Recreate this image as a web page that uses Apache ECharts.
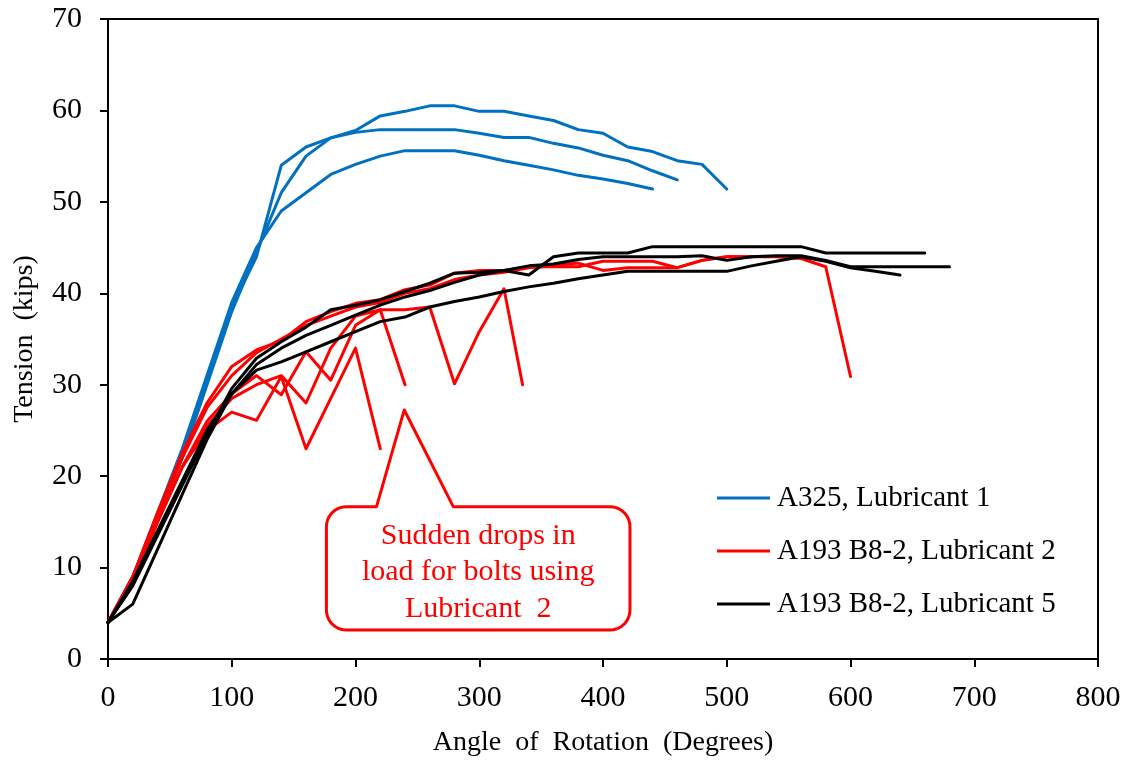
<!DOCTYPE html>
<html>
<head>
<meta charset="utf-8">
<script src="https://cdn.jsdelivr.net/npm/echarts@6/dist/echarts.min.js"></script>
<style>
  html, body { margin: 0; padding: 0; background: #fff; }
  #chart { width: 1130px; height: 761px; }
</style>
</head>
<body>
<div id="chart"></div>
<script>
// Bolt tension versus nut rotation, three bolt/lubricant groups.
const SERIF = 'Liberation Serif';

const legendNames = ['A325, Lubricant 1', 'A193 B8-2, Lubricant 2', 'A193 B8-2, Lubricant 5'];
const groupColors = ['#0070C0', '#FF0000', '#000000'];

const xTicks = [0, 100, 200, 300, 400, 500, 600, 700, 800];
const yTicks = [0, 10, 20, 30, 40, 50, 60, 70];

// A325, Lubricant 1 (blue)
const blueAnglesA = [0,20,40,60,80,100,120,140,160,180,200,220,240,260,280,300,320,340,360,380,400,420,440,460,480,500];
const blueA = [4,9,15.5,22.5,30.5,38.5,44,54,56,57,57.8,59.4,59.9,60.5,60.5,59.9,59.9,59.4,58.9,57.9,57.5,56,55.5,54.5,54.1,51.4];
const blueAnglesB = [0,20,40,60,80,100,120,140,160,180,200,220,240,260,280,300,320,340,360,380,400,420,440,460];
const blueB = [4,9,15.5,22,30,38,44.5,51,55,57,57.6,57.9,57.9,57.9,57.9,57.5,57.05,57.05,56.4,55.9,55.1,54.5,53.4,52.4];
const blueAnglesC = [0,20,40,60,80,100,120,140,160,180,200,220,240,260,280,300,320,340,360,380,400,420,440];
const blueC = [4,9,16,23,31,39,45,49,51,53,54.1,55,55.6,55.6,55.6,55.1,54.5,54,53.5,52.9,52.5,52,51.4];

// A193 B8-2, Lubricant 2 (red)
const redAngles1 = [0,20,40,60,80,100,120,140,160,180,200,220,240,260,280,300,320,340,360,380,400,420,440,460,480,500,520,540,560,580,600];
const red1 = [4,9,16,22.5,28,32,33.8,34.8,36.9,38,38.9,39.3,40.4,40.9,42.2,42.5,42.5,42.9,42.9,42.9,43.5,43.5,43.5,42.8,43.6,44,44,44,43.8,42.9,30.9];
const redAngles2 = [0,20,40,60,80,100,120,140,160,180,200,220];
const red2 = [4,8.5,15,21,25,27,26.1,30.9,23,28.5,34,23];
const redAngles3 = [0,20,40,60,80,100,120,140,160,180,200,220,240];
const red3 = [4,8.5,15,21,26,29,31,28.9,33.6,30.5,36.5,38.2,30];
const redAngles4 = [0,20,40,60,80,100,120,140,160,180,200,220,240,260,280,300,320,335];
const red4 = [4,8.5,15,21,25.5,28.5,30,31,28,34,37.5,38.2,38.2,38.5,30.1,35.8,40.5,30];
const redAngles5 = [0,20,40,60,80,100,120,140,160,180,200,220,240,260,280,300,320,340,360,380,400,420,440,460,480,500,520];
const red5 = [4,9,15.5,22,27.5,31,33.5,35,36.5,37.5,38.5,39,40,40.5,41.5,42,42.3,42.8,43,43.3,42.5,42.8,42.8,42.8,43.6,44,44];

// A193 B8-2, Lubricant 5 (black)
const blackAngles1 = [0,20,40,60,80,100,120,140,160,180,200,220,240,260,280,300,320,340,360,380,400,420,440,460,480,500,520,540,560,580,600,620,640,660];
const black1 = [4,8,13.5,19,24.5,29.6,32.9,34.7,36.3,38.2,38.7,39.3,40.2,41.1,42.2,42.3,42.5,42,44,44.4,44.4,44.4,45.1,45.1,45.1,45.1,45.1,45.1,45.1,44.4,44.4,44.4,44.4,44.4];
const blackAngles2 = [0,20,40,60,80,100,120,140,160,180,200,220,240,260,280,300,320,340,360,380,400,420,440,460,480,500,520,540,560,580,600,620,640,660,680];
const black2 = [4,8.5,14,19.5,25,29,32.2,34,35.4,36.5,37.6,38.7,39.6,40.3,41.2,42,42.5,43,43.2,43.7,44,44,44,44,44.1,43.6,44,44.1,44.1,43.6,42.9,42.9,42.9,42.9,42.9];
const blackAngles3 = [0,20,40,60,80,100,120,140,160,180,200,220,240,260,280,300,320,340,360,380,400,420,440,460,480,500,520,540,560,580,600,620,640];
const black3 = [4,6,12,18,24,29,31.6,32.5,33.6,34.7,35.8,36.9,37.4,38.5,39.1,39.6,40.2,40.7,41.1,41.6,42,42.4,42.4,42.4,42.4,42.4,43,43.5,44,43.5,42.8,42.4,42];

// Callout text and its anchor points (data units)
const calloutLines = ['Sudden drops in', 'load for bolts using', 'Lubricant  2'];
const calloutBox = { x0: 176.5, x1: 421.8, yTop: 16.66, yBottom: 3.17 };
const calloutPointer = { baseLeft: 217, baseRight: 279, tipX: 239.4, tipY: 27.24 };

function pairs(xs, ys) { return xs.map((x, i) => [x, ys[i]]); }

const curves = [
  [0, blueAnglesA, blueA], [0, blueAnglesB, blueB], [0, blueAnglesC, blueC],
  [1, redAngles1, red1], [1, redAngles2, red2], [1, redAngles3, red3], [1, redAngles4, red4], [1, redAngles5, red5],
  [2, blackAngles1, black1], [2, blackAngles2, black2], [2, blackAngles3, black3]
];

const series = curves.map(([g, xs, ys]) => ({
  name: legendNames[g],
  type: 'line',
  data: pairs(xs, ys),
  symbol: 'none',
  silent: true,
  animation: false,
  lineStyle: { color: groupColors[g], width: 3, join: 'round', cap: 'round' },
  itemStyle: { color: groupColors[g] }
}));

const chart = echarts.init(document.getElementById('chart'), null, { renderer: 'canvas' });

chart.setOption({
  animation: false,
  backgroundColor: '#fff',
  grid: {
    left: 108, right: 32, top: 19, bottom: 102,
    containLabel: false, outerBoundsMode: 'none',
    show: true, borderColor: '#000', borderWidth: 2, backgroundColor: 'transparent'
  },
  xAxis: {
    type: 'value', min: 0, max: 800, interval: 100,
    name: 'Angle  of  Rotation  (Degrees)', nameLocation: 'middle', nameGap: 70,
    nameTextStyle: { fontFamily: SERIF, fontSize: 28, color: '#000' },
    axisLine: { show: true, lineStyle: { color: '#000', width: 2 } },
    axisTick: { show: true, inside: false, length: 8, lineStyle: { color: '#000', width: 2 } },
    axisLabel: { fontFamily: SERIF, fontSize: 30, color: '#000', margin: 24,
      formatter: v => xTicks.includes(v) ? String(v) : '' },
    splitLine: { show: false }
  },
  yAxis: {
    type: 'value', min: 0, max: 70, interval: 10,
    name: 'Tension  (kips)', nameLocation: 'middle', nameGap: 69, nameRotate: 90,
    nameTextStyle: { fontFamily: SERIF, fontSize: 28, color: '#000' },
    axisLine: { show: true, lineStyle: { color: '#000', width: 2 } },
    axisTick: { show: true, inside: false, length: 8, lineStyle: { color: '#000', width: 2 } },
    axisLabel: { fontFamily: SERIF, fontSize: 30, color: '#000', margin: 26,
      formatter: v => yTicks.includes(v) ? String(v) : '' },
    splitLine: { show: false }
  },
  legend: {
    data: legendNames,
    orient: 'vertical', left: 717, top: 482, padding: 0,
    icon: 'rect', itemWidth: 53, itemHeight: 3, itemGap: 21,
    textStyle: { fontFamily: SERIF, fontSize: 29, color: '#000', lineHeight: 32, padding: [0, 0, 0, 2] },
    selectedMode: false
  },
  series: series
});

// Rounded callout box with a pointer, built in pixel space from data anchors
function toPx(x, y) { return chart.convertToPixel({ gridIndex: 0 }, [x, y]); }

function drawCallout() {
  const [L, T] = toPx(calloutBox.x0, calloutBox.yTop);
  const [R, B] = toPx(calloutBox.x1, calloutBox.yBottom);
  const [pl] = toPx(calloutPointer.baseLeft, calloutBox.yTop);
  const [pr] = toPx(calloutPointer.baseRight, calloutBox.yTop);
  const tip = toPx(calloutPointer.tipX, calloutPointer.tipY);
  const r = 20, steps = 10;
  const pts = [];
  function arc(cx, cy, a0, a1) {
    for (let i = 0; i <= steps; i++) {
      const a = a0 + (a1 - a0) * i / steps;
      pts.push([cx + r * Math.cos(a), cy + r * Math.sin(a)]);
    }
  }
  pts.push([pl, T]);
  pts.push(tip);
  pts.push([pr, T]);
  arc(R - r, T + r, -Math.PI / 2, 0);
  arc(R - r, B - r, 0, Math.PI / 2);
  arc(L + r, B - r, Math.PI / 2, Math.PI);
  arc(L + r, T + r, Math.PI, Math.PI * 1.5);

  const cx = (L + R) / 2;
  const lineH = 36.5;
  const midY = (T + B) / 2 + 4;
  chart.setOption({
    graphic: [
      {
        type: 'polygon', z: 100, silent: true,
        shape: { points: pts },
        style: { fill: '#fff', stroke: '#FF0000', lineWidth: 3, lineJoin: 'round' }
      },
      {
        type: 'text', z: 101, silent: true,
        x: cx, y: midY,
        style: {
          text: calloutLines.join('\n'),
          fill: '#FF0000', font: '30px ' + SERIF,
          align: 'center', verticalAlign: 'middle', lineHeight: lineH
        }
      }
    ]
  });
}
drawCallout();
</script>
</body>
</html>
